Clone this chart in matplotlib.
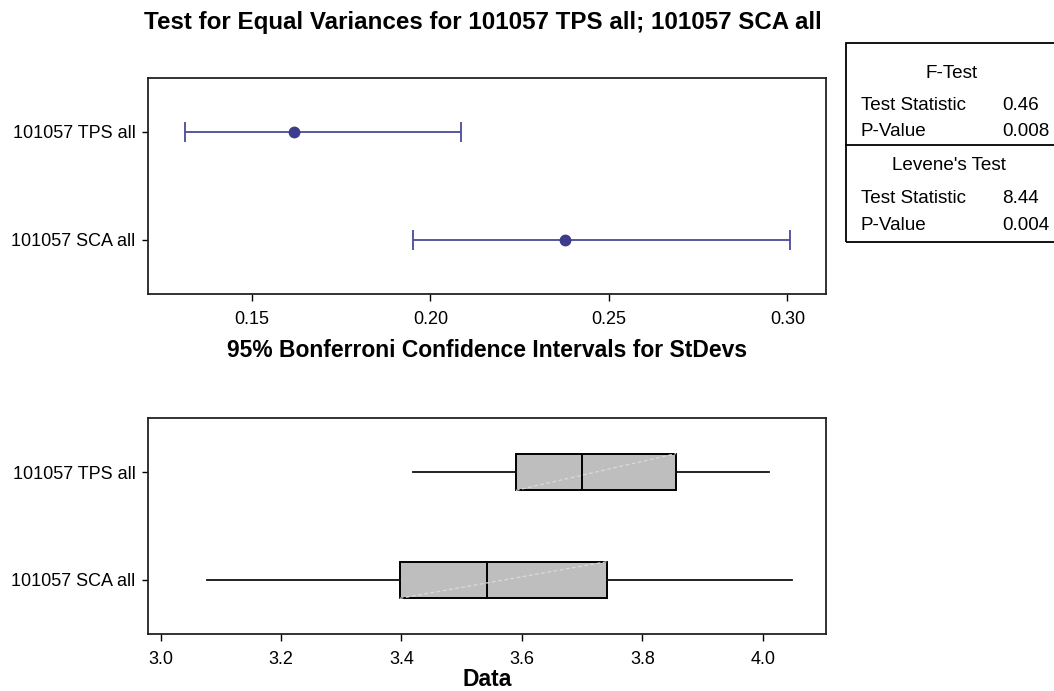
import matplotlib
matplotlib.use("Agg")
import matplotlib.pyplot as plt
from matplotlib.patches import Rectangle
from matplotlib.lines import Line2D

plt.rcParams['font.family'] = ['Liberation Sans', 'DejaVu Sans']

# ---- data ----
groups = ["101057 SCA all", "101057 TPS all"]          # bottom to top
ci_lower = [0.1952, 0.1313]
ci_sigma = [0.2377, 0.1619]
ci_upper = [0.3008, 0.2086]

box_whislo = [3.077, 3.419]
box_q1 = [3.397, 3.590]
box_med = [3.542, 3.700]
box_q3 = [3.742, 3.856]
box_whishi = [4.048, 4.010]

top_ticks = [0.15, 0.20, 0.25, 0.30]
bot_ticks = [3.0, 3.2, 3.4, 3.6, 3.8, 4.0]

f_stat, f_p = "0.46", "0.008"
lev_stat, lev_p = "8.44", "0.004"

title = "Test for Equal Variances for 101057 TPS all; 101057 SCA all"
top_xlabel = "95% Bonferroni Confidence Intervals for StDevs"
bot_xlabel = "Data"

W, H = 1054, 691
fig = plt.figure(figsize=(W / 100, H / 100), dpi=100)

def ax_rect(l, r, t, b):
    return [l / W, 1 - b / H, (r - l) / W, (b - t) / H]

ax1 = fig.add_axes(ax_rect(148, 826, 78, 294))
ax2 = fig.add_axes(ax_rect(148, 826, 418, 634))

line_blue = '#4A4A98'
dot_blue = '#3C3C8C'
ypos = [1, 2]

for i, y in enumerate(ypos):
    lo, s, hi = ci_lower[i], ci_sigma[i], ci_upper[i]
    ax1.errorbar([s], [y], xerr=[[s - lo], [hi - s]], fmt='o', color=dot_blue,
                 ecolor=line_blue, elinewidth=1.3, capsize=7, capthick=1.3,
                 markersize=7.5, zorder=3)

ax1.set_xlim(0.1209, 0.3108)
ax1.set_ylim(0.5, 2.5)
ax1.set_xticks(top_ticks)
ax1.set_xticklabels([f"{t:.2f}" for t in top_ticks])
ax1.set_yticks(ypos)
ax1.set_yticklabels(groups)
ax1.set_xlabel(top_xlabel, fontsize=16.5, fontweight='bold', labelpad=8)

stats = []
for i in range(2):
    stats.append(dict(whislo=box_whislo[i], q1=box_q1[i], med=box_med[i],
                      q3=box_q3[i], whishi=box_whishi[i], fliers=[]))
ax2.bxp(stats, positions=ypos, widths=0.34, orientation='horizontal',
        patch_artist=True, showcaps=False,
        boxprops=dict(facecolor='#BEBEBE', edgecolor='black', linewidth=1.4),
        medianprops=dict(color='black', linewidth=1.4),
        whiskerprops=dict(color='#111111', linewidth=1.3))
# faint diagonal highlight inside each box (as in the reference rendering)
for i, y in enumerate(ypos):
    ax2.plot([box_q1[i], box_q3[i]], [y - 0.17, y + 0.17], color='#DADADA',
             linewidth=0.9, linestyle=(0, (3, 2)), zorder=2.5)

ax2.set_xlim(2.979, 4.105)
ax2.set_ylim(0.5, 2.5)
ax2.set_xticks(bot_ticks)
ax2.set_xticklabels([f"{t:.1f}" for t in bot_ticks])
ax2.set_yticks(ypos)
ax2.set_yticklabels(groups)
ax2.set_xlabel(bot_xlabel, fontsize=16.5, fontweight='bold', labelpad=0)

for ax in (ax1, ax2):
    for sp in ax.spines.values():
        sp.set_linewidth(1.3)
        sp.set_color('#222222')
    ax.tick_params(axis='both', direction='out', length=5, width=1,
                   labelsize=13, colors='black')
    ax.tick_params(axis='y', length=4, pad=5)
ax1.tick_params(axis='x', pad=7)
ax2.tick_params(axis='x', pad=7)

fig.text(483 / W, 1 - 22 / H, title, ha='center', va='center',
         fontsize=17.4, fontweight='bold')

# ---- results table ----
fig.add_artist(Rectangle((846 / W, 1 - 242 / H), (1070 - 846) / W, (242 - 43) / H,
                         transform=fig.transFigure, fill=False,
                         edgecolor='black', linewidth=1.3, clip_on=False))
fig.add_artist(Line2D([846 / W, 1.0], [1 - 145 / H, 1 - 145 / H],
                      transform=fig.transFigure, color='black', linewidth=1.3))

tfs = 13.6
def ftxt(x, y, s, ha='left'):
    fig.text(x / W, 1 - y / H, s, ha=ha, va='center', fontsize=tfs)

ftxt(952, 74, "F-Test", ha='center')
ftxt(861, 106, "Test Statistic")
ftxt(1002, 106, f_stat)
ftxt(861, 132, "P-Value")
ftxt(1002, 132, f_p)
ftxt(949, 165, "Levene's Test", ha='center')
ftxt(861, 199, "Test Statistic")
ftxt(1002, 199, lev_stat)
ftxt(861, 226, "P-Value")
ftxt(1002, 226, lev_p)

fig.savefig("out.png", dpi=100)
